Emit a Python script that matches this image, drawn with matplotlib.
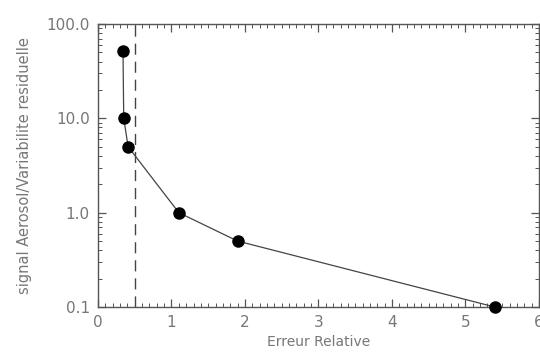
import numpy as np
import matplotlib.pyplot as plt
from matplotlib.ticker import FixedLocator, MultipleLocator, LogLocator, NullFormatter

# data
erreur = [0.34, 0.35, 0.41, 1.10, 1.90, 5.40]
signal = [52.0, 10.0, 5.0, 1.0, 0.5, 0.1]
seuil = 0.5
ytick_vals = [0.1, 1.0, 10.0, 100.0]
ytick_labels = ['0.1', '1.0', '10.0', '100.0']

fig = plt.figure(figsize=(5.4, 3.56), dpi=100)
ax = fig.add_axes([0.1815, 0.1376, 0.8165, 0.795])

axcol = '#555555'
txtcol = '#777777'

ax.plot(erreur, signal, color='#444444', lw=0.9, zorder=2)
ax.plot(erreur, signal, 'o', color='black', ms=8, zorder=3, clip_on=False)
ax.axvline(seuil, color='#444444', lw=1.0, ls=(0, (8, 5)))

ax.set_yscale('log')
ax.set_xlim(0, 6)
ax.set_ylim(0.1, 100)

ax.set_xticks(range(7))
ax.xaxis.set_minor_locator(MultipleLocator(0.1))
ax.yaxis.set_major_locator(FixedLocator(ytick_vals))
ax.set_yticklabels(ytick_labels)
ax.yaxis.set_minor_locator(LogLocator(base=10, subs=np.arange(2, 10)))
ax.yaxis.set_minor_formatter(NullFormatter())

ax.tick_params(which='both', direction='in', top=True, right=True,
               color=axcol, labelcolor=txtcol, labelsize=11)
ax.tick_params(which='major', length=6, width=0.9, pad=6)
ax.tick_params(which='minor', length=3, width=0.7)
for s in ax.spines.values():
    s.set_color(axcol)
    s.set_linewidth(1.0)

ax.set_xlabel('Erreur Relative', color=txtcol, fontsize=10, labelpad=3)
ax.set_ylabel('signal Aerosol/Variabilite residuelle', color=txtcol, fontsize=10.5, labelpad=10)

fig.savefig('out.png', dpi=100)
